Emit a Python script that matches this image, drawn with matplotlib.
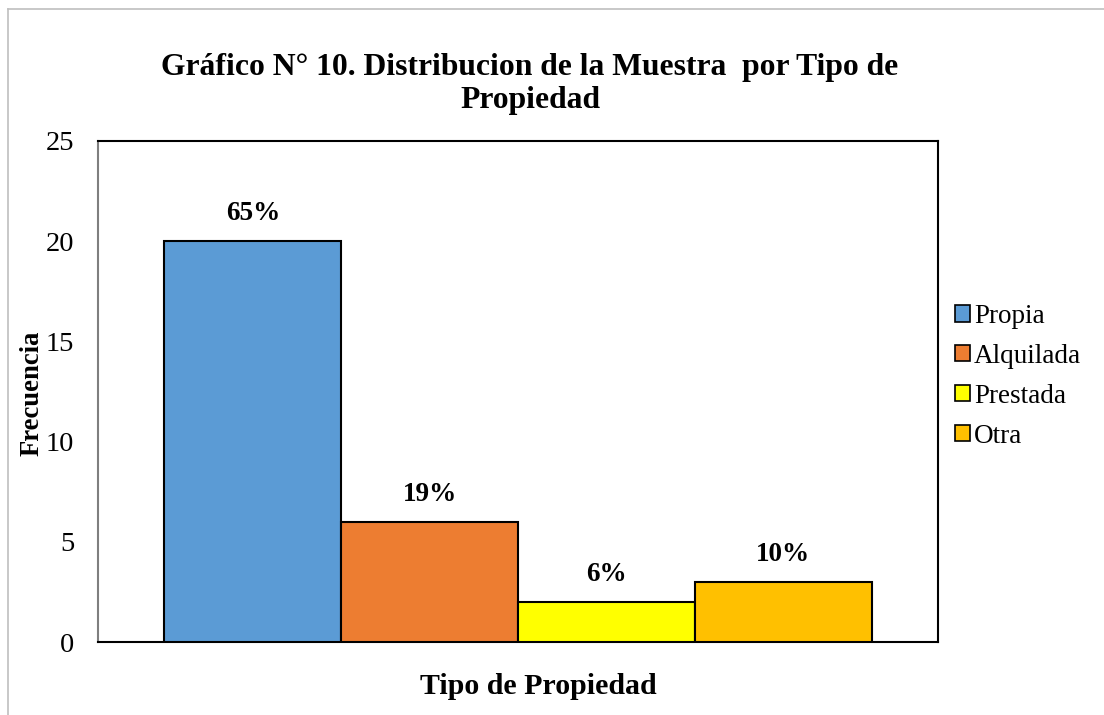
import matplotlib.pyplot as plt
from matplotlib.patches import Rectangle
import numpy as np

plt.rcParams['font.family'] = ['Liberation Serif', 'DejaVu Serif']

# data
categorias = ['Propia', 'Alquilada', 'Prestada', 'Otra']
frecuencia = [20, 6, 2, 3]
porcentajes = ['65%', '19%', '6%', '10%']
colores = ['#5B9BD5', '#ED7D31', '#FFFF00', '#FFC000']

fig = plt.figure(figsize=(11.04, 7.15), dpi=100)
ax = fig.add_axes([98/1104, 73/715, 840/1104, 501/715])

# figure border (top and left grey lines)
fig.add_artist(plt.Line2D([8/1104, 1], [1 - 9/715, 1 - 9/715], color='#bfbfbf', lw=1.2))
fig.add_artist(plt.Line2D([8/1104, 8/1104], [0, 1 - 9/715], color='#bfbfbf', lw=1.2))

x = np.arange(len(categorias)) - 1.5
bars = ax.bar(x, frecuencia, width=1.0, color=colores, edgecolor='black', linewidth=1.5,
              label=categorias, zorder=3)
for xi, v, p in zip(x, frecuencia, porcentajes):
    ax.text(xi, v + 0.75, p, ha='center', va='bottom', fontsize=19.5, fontweight='bold')

ax.set_xlim(-2.376, 2.376)
ax.set_ylim(0, 25)
ax.set_yticks([0, 5, 10, 15, 20, 25])
ax.set_xticks([])
ax.tick_params(axis='y', length=0, labelsize=20.5, pad=17)
for s in ['top', 'right', 'bottom']:
    ax.spines[s].set_color('black')
    ax.spines[s].set_linewidth(1.5)
ax.spines['left'].set_color('#7f7f7f')
ax.spines['left'].set_linewidth(1.5)

fig.text(530/1104, 1 - 84/715, 'Gráfico N° 10. Distribucion de la Muestra  por Tipo de\nPropiedad',
         ha='center', va='center', fontsize=22.8, fontweight='bold', linespacing=1.17)
fig.text(32/1104, 1 - 393/715, 'Frecuencia', rotation=90, ha='center', va='center',
         fontsize=19.2, fontweight='bold')
fig.text(538/1104, 1 - 687/715, 'Tipo de Propiedad', ha='center', va='center',
         fontsize=21.5, fontweight='bold')

handles = [Rectangle((0, 0), 1, 1, facecolor=c, edgecolor='black', linewidth=1.2) for c in colores]
fig.legend(handles, categorias, loc='upper left', bbox_to_anchor=(955/1104, 1 - 304/715),
           frameon=False, fontsize=19.5, handlelength=0.55, handleheight=0.55,
           handletextpad=0.15, labelspacing=0.55, borderaxespad=0, borderpad=0)

fig.savefig('out.png', dpi=100)
